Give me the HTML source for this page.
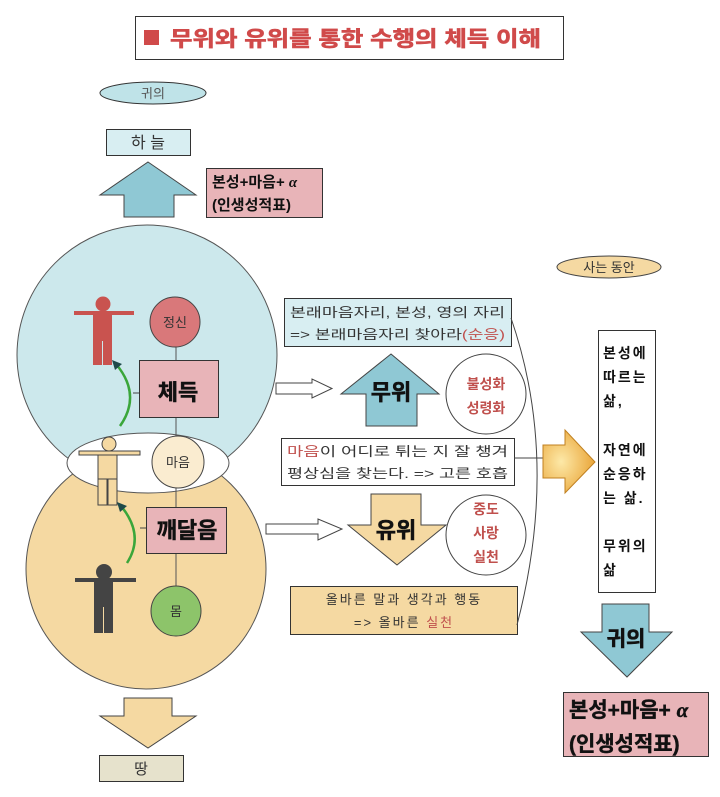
<!DOCTYPE html>
<html><head><meta charset="utf-8"><style>
html,body{margin:0;padding:0;background:#fff;}
svg{display:block;}
text{font-family:"Liberation Sans","Noto Sans CJK KR",sans-serif;}
</style></head><body>
<svg width="720" height="797" viewBox="0 0 720 797" xmlns="http://www.w3.org/2000/svg">
<defs>
<radialGradient id="og" cx="0.35" cy="0.5" r="0.7">
<stop offset="0" stop-color="#fde9a8"/><stop offset="1" stop-color="#e8a030"/>
</radialGradient>
</defs>
<!-- title -->
<rect x="135.5" y="16.5" width="428" height="43" fill="#fff" stroke="#333"/>
<rect x="144" y="30" width="15" height="15" fill="#d04a4a"/>
<text x="170" y="46" font-size="21" font-weight="bold" fill="#d04a4a" stroke="#d04a4a" stroke-width="0.6" textLength="371" lengthAdjust="spacingAndGlyphs">무위와 유위를 통한 수행의 체득 이해</text>

<ellipse cx="153" cy="93" rx="53" ry="11" fill="#bfe3e8" stroke="#333"/>
<text x="153" y="98" font-size="13" fill="#555" text-anchor="middle">귀의</text>
<rect x="106.5" y="129.5" width="84" height="26" fill="#d8eef2" stroke="#333"/>
<text x="148" y="148" font-size="16" fill="#333" text-anchor="middle">하 늘</text>
<polygon points="148,162 196,195 174,195 174,217 124,217 124,195 100,195" fill="#8fc8d4" stroke="#444"/>
<rect x="206.5" y="168.5" width="116" height="49" fill="#e8b4b8" stroke="#333"/>
<text x="212" y="187" font-size="15" font-weight="bold" fill="#111">본성+마음+ <tspan font-style="italic" font-family="Liberation Serif">α</tspan></text>
<text x="212" y="210" font-size="15" font-weight="bold" fill="#111">(인생성적표)</text>

<circle cx="146" cy="569" r="120" fill="#f5d9a2" stroke="#555"/>
<circle cx="147" cy="355" r="130" fill="#cce8ec" stroke="#555"/>
<ellipse cx="148" cy="463" rx="81" ry="30" fill="#fff" stroke="#555"/>

<line x1="176" y1="347" x2="176" y2="611" stroke="#555"/>
<circle cx="175" cy="322" r="25" fill="#d9787a" stroke="#444"/>
<text x="175" y="327" font-size="13" fill="#333" text-anchor="middle">정신</text>
<rect x="139.5" y="360.5" width="79" height="57" fill="#e8b4b8" stroke="#333"/>
<text x="178" y="400" font-size="22" font-weight="bold" fill="#111" stroke="#111" stroke-width="0.5" text-anchor="middle">체득</text>
<line x1="133" y1="393" x2="139" y2="393" stroke="#444"/>
<circle cx="178" cy="462" r="26" fill="#faecd0" stroke="#444"/>
<text x="178" y="467" font-size="13" fill="#333" text-anchor="middle">마음</text>
<rect x="146.5" y="507.5" width="80" height="46" fill="#e8b4b8" stroke="#333"/>
<text x="187" y="538" font-size="22" font-weight="bold" fill="#111" stroke="#111" stroke-width="0.5" text-anchor="middle">깨달음</text>
<line x1="140" y1="528" x2="146" y2="528" stroke="#444"/>
<circle cx="176" cy="611" r="25" fill="#8dc46a" stroke="#444"/>
<text x="176" y="616" font-size="13" fill="#333" text-anchor="middle">몸</text>

<g fill="#c9534f">
<circle cx="103" cy="304" r="7.5"/>
<rect x="74" y="311" width="60" height="4"/>
<rect x="93" y="315" width="19" height="26"/>
<rect x="93" y="340" width="9" height="25"/>
<rect x="103" y="340" width="9" height="25"/>
</g>
<g fill="#f5d9a2" stroke="#444" stroke-width="1">
<circle cx="109" cy="444" r="7"/>
<rect x="79" y="451" width="61" height="4"/>
<rect x="98" y="455" width="19" height="24"/>
<rect x="98" y="479" width="9" height="26"/>
<rect x="108" y="479" width="9" height="26"/>
</g>
<g fill="#444">
<circle cx="104" cy="572" r="8"/>
<rect x="75" y="578" width="61" height="4"/>
<rect x="94" y="582" width="19" height="25"/>
<rect x="94" y="606" width="9" height="27"/>
<rect x="104" y="606" width="9" height="27"/>
</g>
<path d="M120,426 Q142,395 116,364" fill="none" stroke="#3aa63a" stroke-width="2.5"/>
<polygon points="112,360 122,364 115,370" fill="#1f4a4a"/>
<path d="M127,563 Q145,535 121,506" fill="none" stroke="#3aa63a" stroke-width="2.5"/>
<polygon points="117,502 127,506 120,512" fill="#1f4a4a"/>

<polygon points="124,698 172,698 172,716 196,716 148,748 100,716 124,716" fill="#f5d9a2" stroke="#444"/>
<rect x="99.5" y="755.5" width="84" height="26" fill="#e6e2cc" stroke="#333"/>
<text x="141" y="774" font-size="15" fill="#333" text-anchor="middle">땅</text>

<polygon points="276,383 312,383 312,379 332,388.5 312,398 312,394 276,394" fill="#fff" stroke="#444"/>
<polygon points="266,524 318,524 318,519 342,529 318,540 318,534 266,534" fill="#fff" stroke="#444"/>

<rect x="284.5" y="298.5" width="227" height="48" fill="#d8eef2" stroke="#333"/>
<text x="290" y="317" font-size="13" fill="#333" textLength="215" lengthAdjust="spacingAndGlyphs">본래마음자리, 본성, 영의 자리</text>
<text x="290" y="339" font-size="13" fill="#333" textLength="215" lengthAdjust="spacingAndGlyphs">=&gt; 본래마음자리 찾아라<tspan fill="#c0504d">(순응)</tspan></text>

<polygon points="391,354 439,394 417,394 417,426 366,426 366,394 341,394" fill="#8fc8d4" stroke="#444"/>
<text x="391" y="400" font-size="22" font-weight="bold" fill="#111" stroke="#111" stroke-width="0.5" text-anchor="middle">무위</text>
<circle cx="486" cy="394" r="40" fill="#fff" stroke="#444"/>
<text x="486" y="389" font-size="14" font-weight="bold" fill="#c0504d" text-anchor="middle">불성화</text>
<text x="486" y="413" font-size="14" font-weight="bold" fill="#c0504d" text-anchor="middle">성령화</text>

<rect x="281.5" y="438.5" width="233" height="47" fill="#fff" stroke="#333"/>
<text x="287" y="456" font-size="13" fill="#333" textLength="221" lengthAdjust="spacingAndGlyphs"><tspan fill="#c0504d">마음</tspan>이 어디로 튀는 지 잘 챙겨</text>
<text x="287" y="478" font-size="13" fill="#333" textLength="221" lengthAdjust="spacingAndGlyphs">평상심을 찾는다. =&gt; 고른 호흡</text>

<polygon points="371,494 421,494 421,525 446,525 397,565 348,525 371,525" fill="#f5d9a2" stroke="#444"/>
<text x="396" y="538" font-size="22" font-weight="bold" fill="#111" stroke="#111" stroke-width="0.5" text-anchor="middle">유위</text>
<circle cx="486" cy="535" r="40" fill="#fff" stroke="#444"/>
<text x="486" y="514" font-size="14" font-weight="bold" fill="#c0504d" text-anchor="middle">중도</text>
<text x="486" y="538" font-size="14" font-weight="bold" fill="#c0504d" text-anchor="middle">사랑</text>
<text x="486" y="562" font-size="14" font-weight="bold" fill="#c0504d" text-anchor="middle">실천</text>

<rect x="290.5" y="586.5" width="227" height="48" fill="#f5d9a2" stroke="#333"/>
<text x="404" y="604" font-size="13" fill="#333" text-anchor="middle" letter-spacing="2">올바른 말과 생각과 행동</text>
<text x="404" y="627" font-size="13" fill="#333" text-anchor="middle" letter-spacing="2">=&gt; 올바른 <tspan fill="#c0504d">실천</tspan></text>

<path d="M511,318 Q560,460 517,625" fill="none" stroke="#444"/>
<line x1="514" y1="458" x2="543" y2="458" stroke="#444"/>
<polygon points="543,445 565,445 565,430 595,462 565,493 565,478 543,478" fill="url(#og)" stroke="#c08020"/>

<ellipse cx="609" cy="267" rx="52" ry="11" fill="#f5d9a2" stroke="#444"/>
<text x="609" y="272" font-size="13" fill="#333" text-anchor="middle">사는 동안</text>

<rect x="598.5" y="330.5" width="57" height="262" fill="#fff" stroke="#333"/>
<g font-size="14" font-weight="bold" fill="#111" letter-spacing="2">
<text x="603" y="358">본성에</text>
<text x="603" y="382">따르는</text>
<text x="603" y="406">삶,</text>
<text x="603" y="455">자연에</text>
<text x="603" y="479">순응하</text>
<text x="603" y="503">는 삶.</text>
<text x="603" y="551">무위의</text>
<text x="603" y="575">삶</text>
</g>

<polygon points="602,604 649,604 649,632 672,632 627,677 581,632 602,632" fill="#8fc8d4" stroke="#444"/>
<text x="626" y="646" font-size="21" font-weight="bold" fill="#111" stroke="#111" stroke-width="0.5" text-anchor="middle">귀의</text>

<rect x="563.5" y="692.5" width="145" height="64" fill="#e8b4b8" stroke="#333"/>
<text x="569" y="717" font-size="21" font-weight="bold" fill="#111" stroke="#111" stroke-width="0.4">본성+마음+ <tspan font-style="italic" font-family="Liberation Serif">α</tspan></text>
<text x="569" y="751" font-size="21" font-weight="bold" fill="#111" stroke="#111" stroke-width="0.4">(인생성적표)</text>
</svg>
</body></html>
